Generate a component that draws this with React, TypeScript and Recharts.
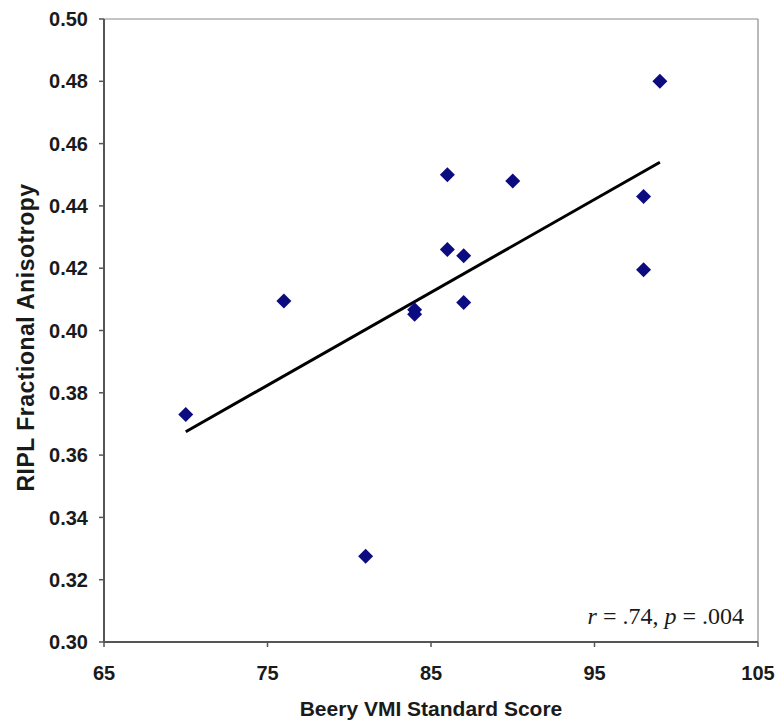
import React from 'react';
import {
  ScatterChart,
  Scatter,
  XAxis,
  YAxis,
  ReferenceLine,
  ReferenceDot,
} from 'recharts';

// Beery VMI standard scores (x) and RIPL fractional anisotropy (y)
const vmiScores = [70, 76, 81, 84, 84, 86, 86, 87, 87, 90, 98, 98, 99];
const faValues = [0.373, 0.4095, 0.3275, 0.4067, 0.4052, 0.45, 0.426, 0.424, 0.409, 0.448, 0.443, 0.4195, 0.48];

// regression line end points
const trendX = [70, 99];
const trendY = [0.3675, 0.454];

const xTicks = [65, 75, 85, 95, 105];
const yTicks = [0.3, 0.32, 0.34, 0.36, 0.38, 0.4, 0.42, 0.44, 0.46, 0.48, 0.5];

const annotation = { r: '.74', p: '.004' };

const points = vmiScores.map((x, i) => ({ x, y: faValues[i] }));

const SANS = '"Liberation Sans", Arial, Helvetica, sans-serif';
const SERIF = '"Liberation Serif", "Times New Roman", serif';

const Diamond = (props: any) => {
  const { cx, cy } = props;
  const h = 7.5;
  return (
    <polygon
      points={`${cx},${cy - h} ${cx + h},${cy} ${cx},${cy + h} ${cx - h},${cy}`}
      fill="#0c0c80"
    />
  );
};

const tickStyle = {
  fontFamily: SANS,
  fontWeight: 700,
  fontSize: 20,
  fill: '#1a1a1a',
};

export default function App() {
  return (
    <div style={{ position: 'absolute', left: 0, top: 0, background: '#fff' }}>
      <ScatterChart
        width={781}
        height={723}
        margin={{ top: 19, right: 23, left: 0, bottom: 0 }}
      >
        <XAxis
          type="number"
          dataKey="x"
          domain={[65, 105]}
          ticks={xTicks}
          height={81}
          tickSize={5}
          tickMargin={19}
          axisLine={{ stroke: '#555', strokeWidth: 2 }}
          tickLine={{ stroke: '#555', strokeWidth: 1.5 }}
          tick={tickStyle}
          interval={0}
          label={{
            value: 'Beery VMI Standard Score',
            position: 'insideBottom',
            offset: 7,
            style: {
              fontFamily: SANS,
              fontWeight: 700,
              fontSize: 21,
              fill: '#1a1a1a',
              textAnchor: 'middle',
            },
          }}
        />
        <YAxis
          type="number"
          dataKey="y"
          domain={[0.3, 0.5]}
          ticks={yTicks}
          width={104}
          tickSize={5}
          tickMargin={11}
          axisLine={{ stroke: '#555', strokeWidth: 2 }}
          tickLine={{ stroke: '#555', strokeWidth: 1.5 }}
          tick={tickStyle}
          interval={0}
          tickFormatter={(v: number) => v.toFixed(2)}
          label={{
            content: (p: any) => {
              const vb = p.viewBox || {};
              const cx = (vb.x ?? 0) + 26;
              const cy = (vb.y ?? 0) + (vb.height ?? 0) / 2 + 7;
              return (
                <text
                  x={cx}
                  y={cy}
                  transform={`rotate(-90, ${cx}, ${cy})`}
                  textAnchor="middle"
                  dominantBaseline="central"
                  style={{
                    fontFamily: SANS,
                    fontWeight: 700,
                    fontSize: 23,
                    letterSpacing: 0.5,
                    fill: '#1a1a1a',
                  }}
                >
                  RIPL Fractional Anisotropy
                </text>
              );
            },
          }}
        />
        <ReferenceLine y={0.5} stroke="#8a8a8a" strokeWidth={1.2} ifOverflow="visible" />
        <ReferenceLine x={105} stroke="#8a8a8a" strokeWidth={1.2} ifOverflow="visible" />
        <ReferenceLine
          segment={[
            { x: trendX[0], y: trendY[0] },
            { x: trendX[1], y: trendY[1] },
          ]}
          stroke="#000"
          strokeWidth={3}
          ifOverflow="visible"
        />
        <Scatter
          data={points}
          shape={Diamond}
          isAnimationActive={false}
        />
        <ReferenceDot
          x={105}
          y={0.3}
          r={0}
          fill="none"
          stroke="none"
          ifOverflow="visible"
          label={{
            content: (p: any) => {
              const vb = p.viewBox || {};
              const x = (vb.x ?? 0) + (vb.width ?? 0) / 2 - 14;
              const y = (vb.y ?? 0) + (vb.height ?? 0) / 2 - 18;
              return (
                <text
                  x={x}
                  y={y}
                  textAnchor="end"
                  style={{ fontFamily: SERIF, fontSize: 24, fill: '#1a1a1a' }}
                >
                  <tspan fontStyle="italic">r</tspan>
                  <tspan> = {annotation.r}, </tspan>
                  <tspan fontStyle="italic">p</tspan>
                  <tspan> = {annotation.p}</tspan>
                </text>
              );
            },
          }}
        />
      </ScatterChart>
    </div>
  );
}
